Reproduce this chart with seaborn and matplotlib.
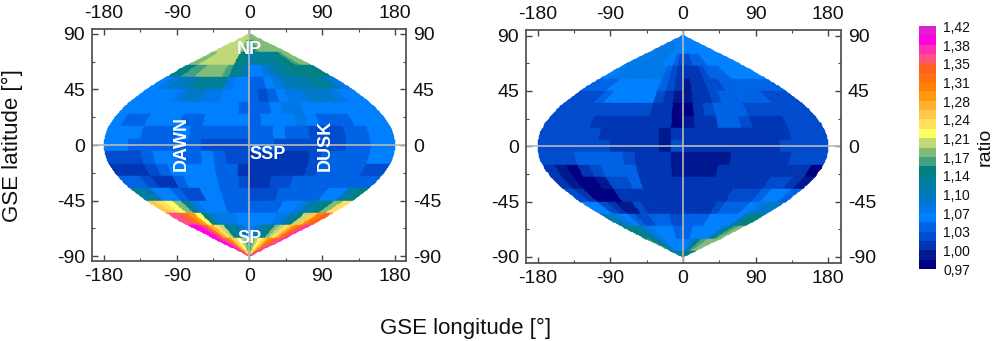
# GSE sky maps of the ratio, sinusoidal projection
import numpy as np
import pandas as pd
import matplotlib
matplotlib.use('Agg')
import matplotlib.pyplot as plt
from matplotlib.colors import ListedColormap, BoundaryNorm
import seaborn as sns

# ratio per 10 deg latitude row (90 ... -90), 24 longitude bins of 15 deg (-180 ... 180)
left_ratio = [
    [1.20]*12 + [1.19]*12,
    [1.20]*9 + [1.19, 1.17, 1.15, 1.13, 1.15, 1.17] + [1.19]*9,
    [1.19, 1.19, 1.20, 1.20, 1.20, 1.20, 1.20, 1.20, 1.20, 1.15, 1.15, 1.13, 1.12, 1.13, 1.13, 1.13, 1.13, 1.13, 1.13, 1.15, 1.15, 1.17, 1.19, 1.19],
    [1.15, 1.15, 1.17, 1.17, 1.19, 1.19, 1.19, 1.19, 1.17, 1.15, 1.13, 1.12, 1.07, 1.07, 1.08, 1.10, 1.12, 1.13, 1.13, 1.15, 1.15, 1.15, 1.15, 1.15],
    [1.07, 1.08, 1.10, 1.10, 1.12, 1.13, 1.13, 1.13, 1.13, 1.08, 1.07, 1.07, 1.05, 1.05, 1.07, 1.08, 1.10, 1.12, 1.12, 1.12, 1.13, 1.13, 1.12, 1.08],
    [1.07, 1.07, 1.07, 1.07, 1.08, 1.10, 1.10, 1.08, 1.08, 1.07, 1.07, 1.07, 1.05, 1.03, 1.05, 1.07, 1.08, 1.08, 1.10, 1.10, 1.10, 1.08, 1.07, 1.07],
    [1.07]*11 + [1.05, 1.05, 1.05, 1.07, 1.08, 1.08, 1.07, 1.07, 1.07, 1.07, 1.07, 1.07, 1.07],
    [1.07, 1.05, 1.05, 1.07, 1.07, 1.07, 1.05, 1.05, 1.07, 1.07, 1.07, 1.07, 1.05, 1.07, 1.07, 1.07, 1.08, 1.07, 1.05, 1.05, 1.05, 1.07, 1.07, 1.07],
    [1.07, 1.07, 1.07, 1.05, 1.05, 1.05, 1.07, 1.05, 1.05, 1.05, 1.05, 1.05, 1.05, 1.05, 1.07, 1.05, 1.05, 1.03, 1.03, 1.03, 1.05, 1.05, 1.07, 1.07],
    [1.07, 1.07, 1.05, 1.05, 1.05, 1.05, 1.05, 1.05, 1.03, 1.03, 1.03, 1.03, 1.05, 1.05, 1.03, 1.03, 1.03, 1.03, 1.03, 1.03, 1.05, 1.05, 1.07, 1.07],
    [1.03, 1.03, 1.03, 1.05, 1.07, 1.07, 1.05, 1.05, 1.07, 1.05, 1.03, 1.03, 1.01, 1.01, 1.01, 1.01, 1.01, 1.03, 1.05, 1.05, 1.05, 1.05, 1.07, 1.07],
    [1.01, 1.01, 1.01, 1.03, 1.05, 1.07, 1.07, 1.07, 1.07, 1.05, 1.05, 1.01, 1.01, 1.01, 1.01, 1.01, 1.01, 1.03, 1.05, 1.05, 1.05, 1.05, 1.03, 1.03],
    [1.05, 1.05, 1.03, 1.01, 1.01, 1.05, 1.07, 1.07, 1.07, 1.05, 1.05, 1.03, 1.01, 1.01, 1.03, 1.03, 1.05, 1.05, 1.05, 1.05, 1.05, 1.05, 1.05, 1.05],
    [1.13, 1.12, 1.07, 1.07, 1.05, 1.03, 1.03, 1.07, 1.07, 1.05, 1.05, 1.05, 1.03, 1.03, 1.03, 1.05, 1.05, 1.05, 1.05, 1.05, 1.07, 1.07, 1.12, 1.15],
    [1.26, 1.24, 1.22, 1.19, 1.13, 1.08, 1.07, 1.07, 1.07, 1.05, 1.05, 1.05, 1.05, 1.05, 1.05, 1.05, 1.07, 1.07, 1.08, 1.12, 1.13, 1.15, 1.19, 1.24],
    [1.36, 1.36, 1.33, 1.29, 1.22, 1.15, 1.10, 1.08, 1.08, 1.08, 1.07, 1.07, 1.07, 1.07, 1.07, 1.07, 1.08, 1.08, 1.12, 1.15, 1.20, 1.26, 1.31, 1.34],
    [1.40, 1.40, 1.38, 1.33, 1.27, 1.24, 1.20, 1.15, 1.13, 1.12, 1.10, 1.07, 1.07, 1.10, 1.12, 1.13, 1.15, 1.19, 1.20, 1.24, 1.27, 1.31, 1.34, 1.38],
    [1.40, 1.40, 1.38, 1.36, 1.33, 1.29, 1.26, 1.24, 1.22, 1.20, 1.19, 1.17, 1.17, 1.19, 1.20, 1.22, 1.24, 1.26, 1.29, 1.31, 1.33, 1.34, 1.36, 1.38],
    [1.38, 1.38, 1.36, 1.34, 1.33, 1.29, 1.26, 1.24, 1.22, 1.20, 1.19, 1.19, 1.19, 1.19, 1.20, 1.22, 1.24, 1.26, 1.29, 1.31, 1.33, 1.34, 1.36, 1.38],
]

right_ratio = [
    [1.07]*24,
    [1.08]*9 + [1.07]*15,
    [1.08]*8 + [1.07, 1.07, 1.05, 1.03, 1.03, 1.03, 1.05, 1.05, 1.05] + [1.07]*7,
    [1.07] + [1.08]*8 + [1.05, 1.03, 1.01, 1.01, 1.01, 1.01, 1.03, 1.05, 1.05, 1.05, 1.07, 1.07, 1.07, 1.07, 1.07],
    [1.05, 1.05, 1.05, 1.07, 1.07, 1.07, 1.07, 1.07, 1.07, 1.05, 1.03, 1.01, 1.00, 1.01, 1.01, 1.03, 1.03, 1.05, 1.05, 1.05, 1.05, 1.05, 1.05, 1.05],
    [1.03, 1.03, 1.03, 1.05, 1.07, 1.07, 1.07, 1.07, 1.07, 1.03, 1.01, 1.00, 1.00, 1.01, 1.01, 1.03, 1.05, 1.05, 1.05, 1.05, 1.05, 1.03, 1.03, 1.03],
    [1.03]*9 + [1.01, 1.01, 0.98, 0.98, 1.01, 1.03, 1.05, 1.05, 1.05, 1.03, 1.03, 1.03, 1.03, 1.03, 1.03],
    [1.03, 1.03, 1.03, 1.03, 1.01, 1.01, 1.01, 1.01, 1.01, 1.01, 1.01, 0.98, 1.00, 1.01, 1.01, 1.05, 1.05, 1.03, 1.01, 1.01, 1.01, 1.03, 1.03, 1.03],
    [1.03, 1.03, 1.03, 1.03, 1.03, 1.01, 1.01, 1.01, 1.01, 1.01, 1.00, 1.01, 1.01, 1.01, 1.01, 1.01, 1.01, 1.01, 1.01, 1.01, 1.01, 1.03, 1.03, 1.03],
    [1.03, 1.03, 1.03, 1.03, 1.03, 1.03, 1.01, 1.01, 1.01, 1.01, 1.00, 1.03, 1.01, 1.01, 1.01, 1.01, 1.01, 1.01, 1.01, 1.01, 1.03, 1.03, 1.03, 1.03],
    [1.03, 1.03, 1.03, 1.05, 1.05, 1.05, 1.05, 1.03, 1.01, 1.01, 1.01, 1.00, 1.00, 1.00, 1.00, 1.00, 1.01, 1.01, 1.01, 1.01, 1.01, 1.03, 1.03, 1.03],
    [1.01, 1.00, 0.98, 1.01, 1.03, 1.05, 1.05, 1.05, 1.01, 1.01, 1.01, 1.00, 1.00, 1.00, 1.00, 1.01, 1.01, 1.01, 1.01, 1.01, 1.01, 1.01, 1.01, 0.98],
    [1.01, 1.00, 0.98, 0.98, 1.00, 1.03, 1.03, 1.05, 1.01, 1.01, 1.01, 1.01, 1.01, 1.01, 1.01, 1.01, 1.01, 1.01, 1.01, 1.01, 1.03, 1.03, 1.01, 1.00],
    [1.03, 1.01, 0.98, 0.98, 0.98, 1.01, 1.01, 1.01, 1.01, 1.01, 1.01, 1.01, 1.01, 1.01, 1.01, 1.01, 1.01, 1.03, 1.03, 1.03, 1.05, 1.07, 1.07, 1.05],
    [1.07, 1.07, 1.03, 1.01, 1.00, 1.00, 1.03, 1.01, 1.01, 1.01, 1.01, 1.01, 1.01, 1.01, 1.01, 1.01, 1.03, 1.05, 1.05, 1.05, 1.07, 1.08, 1.10, 1.10],
    [1.12, 1.10, 1.08, 1.07, 1.05, 1.03, 1.03, 1.05, 1.05, 1.05, 1.03, 1.03, 1.05, 1.05, 1.05, 1.05, 1.07, 1.07, 1.07, 1.07, 1.07, 1.12, 1.15, 1.15],
    [1.15, 1.15, 1.13, 1.12, 1.08, 1.08, 1.07, 1.07, 1.07, 1.07, 1.05, 1.05, 1.05, 1.05, 1.07, 1.07, 1.07, 1.07, 1.07, 1.07, 1.10, 1.15, 1.17, 1.19],
    [1.17, 1.15, 1.13, 1.12, 1.10, 1.08, 1.07, 1.07, 1.07, 1.07, 1.07, 1.07, 1.07, 1.07, 1.08, 1.10, 1.12, 1.15, 1.17, 1.17, 1.19, 1.19, 1.19, 1.19],
    [1.13]*12 + [1.15]*12,
]

lat_centres = [90, 80, 70, 60, 50, 40, 30, 20, 10, 0, -10, -20, -30, -40, -50, -60, -70, -80, -90]
lon_edges = list(range(-180, 181, 15))

# colour bands of the scale, bottom to top
band_colors = ['#000080', '#001890', '#0036B4', '#004CCC', '#0062E4', '#0080FF', '#0078E8',
               '#0078C8', '#0078B0', '#007F98', '#008080', '#40A080', '#80BC78', '#C0D878',
               '#FFFF60', '#FFE060', '#FFC848', '#FFB030', '#FF9810', '#FF8000', '#FF7010',
               '#FF6020', '#FF5080', '#FF30B0', '#FF00E0', '#E020D0']
scale_min = 0.97
scale_max = 1.42
scale_labels = ['0,97', '1,00', '1,03', '1,07', '1,10', '1,14', '1,17',
                '1,21', '1,24', '1,28', '1,31', '1,35', '1,38', '1,42']

x_ticks = [-180, -90, 0, 90, 180]
y_ticks = [-90, -45, 0, 45, 90]

sns.set_style('ticks')
plt.rcParams['font.family'] = ['Liberation Sans', 'DejaVu Sans']
plt.rcParams['axes.unicode_minus'] = False
W, H = 996, 341

cmap = ListedColormap(band_colors)
levels = np.linspace(scale_min, scale_max, len(band_colors) + 1)
norm = BoundaryNorm(levels, cmap.N)


def px_axes(fig, x0, y0, x1, y1):
    return fig.add_axes([x0 / W, 1 - y1 / H, (x1 - x0) / W, (y1 - y0) / H])


def draw_map(ax, ratio, xlim, ylim):
    # each 10 deg row is cut in 8 so the outline stays round
    sub = 8
    lat = []
    for c in lat_centres:
        top = min(c + 5, 90)
        bot = max(c - 5, -90)
        lat.append(np.linspace(top, bot, sub + 1)[:-1])
    lat = np.append(np.concatenate(lat), -90)
    rows = []
    for c, r in zip(lat_centres, ratio):
        rows.append(np.tile(r, (sub, 1)))
    C = np.vstack(rows)
    X = np.outer(np.cos(np.radians(lat)), lon_edges)
    Y = np.tile(lat[:, None], (1, len(lon_edges)))
    ax.pcolormesh(X, Y, C, cmap=cmap, norm=norm, shading='flat', edgecolors='face',
                  linewidth=0.3, antialiased=True)
    ax.axhline(0, color='#b8b8b8', lw=1.2)
    ax.axvline(0, color='#b8b8b8', lw=1.2)
    ax.set_xlim(xlim)
    ax.set_ylim(ylim)
    ax.set_xticks(x_ticks)
    ax.set_yticks(y_ticks)
    ax.set_xticks([-135, -45, 45, 135], minor=True)
    ax.set_yticks([-67.5, -22.5, 22.5, 67.5], minor=True)
    ax.tick_params(which='major', direction='in', length=4.5, width=1, color='#444444',
                   top=True, right=True, labeltop=True, labelright=True, labelsize=14, pad=5,
                   labelcolor='#111111')
    ax.tick_params(which='minor', direction='in', length=2.5, width=0.8, color='#444444',
                   top=True, right=True)
    for s in ax.spines.values():
        s.set_color('#555555')
        s.set_linewidth(1.3)


fig = plt.figure(figsize=(W / 100, H / 100), dpi=100)

ax1 = px_axes(fig, 92, 29, 406, 261)
draw_map(ax1, left_ratio, (-194.8, 193.6), (-94, 94))
ax2 = px_axes(fig, 526, 30, 841, 263)
draw_map(ax2, right_ratio, (-194.5, 195.8), (-94.9, 94.6))

for label, x, y, rot in [('NP', 0, 77, 0), ('SP', 0, -76, 0), ('SSP', 22, -8, 0),
                         ('DAWN', -84, 1, 90), ('DUSK', 94, 0, 90)]:
    ax1.text(x, y, label, color='white', fontweight='bold', fontsize=13,
             ha='center', va='center', rotation=rot)

fig.text(12 / W, 1 - 146 / H, 'GSE latitude [°]', rotation=90, fontsize=16,
         ha='center', va='center', color='#111111')
fig.text(466 / W, 1 - 328 / H, 'GSE longitude [°]', fontsize=16,
         ha='center', va='center', color='#111111')

# colour scale as a one column heatmap
cax = px_axes(fig, 919, 26, 936, 269)
mid = (levels[:-1] + levels[1:]) / 2
scale_df = pd.DataFrame({'ratio': mid[::-1]})
sns.heatmap(scale_df, ax=cax, cmap=cmap, norm=norm, cbar=False,
            xticklabels=False, yticklabels=False)
n = len(band_colors)
for k, lab in enumerate(scale_labels):
    cax.text(1 + 7 / 17, n + 0.2 - 2 * k, lab, fontsize=10, va='center', ha='left', color='#111111')
fig.text(985 / W, 1 - 147 / H, 'ratio', rotation=90, fontsize=14, ha='center', va='center', color='#111111')

fig.savefig('out.png', dpi=100)
